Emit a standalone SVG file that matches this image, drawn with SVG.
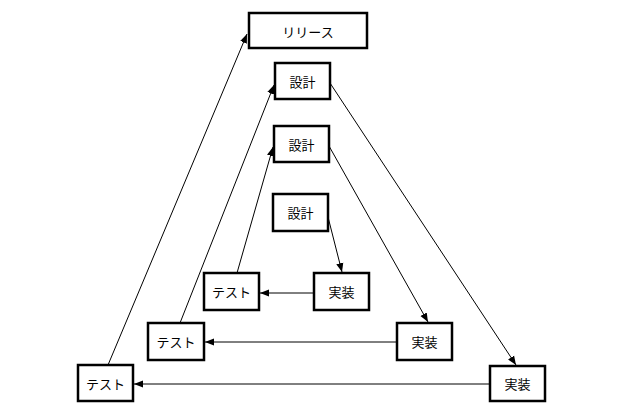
<svg xmlns="http://www.w3.org/2000/svg" width="627" height="411" viewBox="0 0 627 411">
<style>
.box{fill:#fff;stroke:#000;stroke-width:2.5}
.t{font-family:"Noto Sans CJK JP","Noto Sans",sans-serif;font-size:13px;fill:#000;text-anchor:middle;dominant-baseline:central}
.c{stroke:#000;stroke-width:1;fill:none;marker-end:url(#ah)}
</style>
<defs>
<marker id="ah" viewBox="0 0 10 10" refX="10" refY="5" markerWidth="9" markerHeight="9" markerUnits="userSpaceOnUse" orient="auto">
<path d="M0,1 L10,5 L0,9 z" fill="#000"/>
</marker>
</defs>
<rect width="627" height="411" fill="#fff"/>
<g id="connectors">
<line class="c" x1="108" y1="365" x2="247" y2="34"/>
<line class="c" x1="180" y1="323" x2="274" y2="85"/>
<line class="c" x1="237" y1="273" x2="273" y2="147"/>
<line class="c" x1="330" y1="83" x2="516" y2="365"/>
<line class="c" x1="329" y1="146" x2="428" y2="322"/>
<line class="c" x1="328" y1="217" x2="342" y2="272"/>
<line class="c" x1="314" y1="293" x2="260" y2="293"/>
<line class="c" x1="397" y1="342" x2="205" y2="342"/>
<line class="c" x1="490" y1="384" x2="134" y2="384"/>
</g>
<g id="release"><rect class="box" x="249" y="13" width="118" height="35"/><text class="t" x="308" y="31">リリース</text></g>
<g id="design1"><rect class="box" x="275" y="63" width="55" height="36"/><text class="t" x="302.5" y="81">設計</text></g>
<g id="design2"><rect class="box" x="274" y="126" width="55" height="36"/><text class="t" x="301.5" y="144">設計</text></g>
<g id="design3"><rect class="box" x="273" y="194" width="55" height="37"/><text class="t" x="300.5" y="212.5">設計</text></g>
<g id="test3"><rect class="box" x="204" y="273" width="55" height="37"/><text class="t" x="231.5" y="291.5">テスト</text></g>
<g id="impl3"><rect class="box" x="314" y="273" width="55" height="37"/><text class="t" x="341.5" y="291.5">実装</text></g>
<g id="test2"><rect class="box" x="148" y="323" width="56" height="37"/><text class="t" x="176" y="341.5">テスト</text></g>
<g id="impl2"><rect class="box" x="397" y="323" width="55" height="37"/><text class="t" x="424.5" y="341.5">実装</text></g>
<g id="test1"><rect class="box" x="78" y="365" width="55" height="36"/><text class="t" x="105.5" y="383">テスト</text></g>
<g id="impl1"><rect class="box" x="490" y="366" width="55" height="35"/><text class="t" x="517.5" y="383.5">実装</text></g>
</svg>
